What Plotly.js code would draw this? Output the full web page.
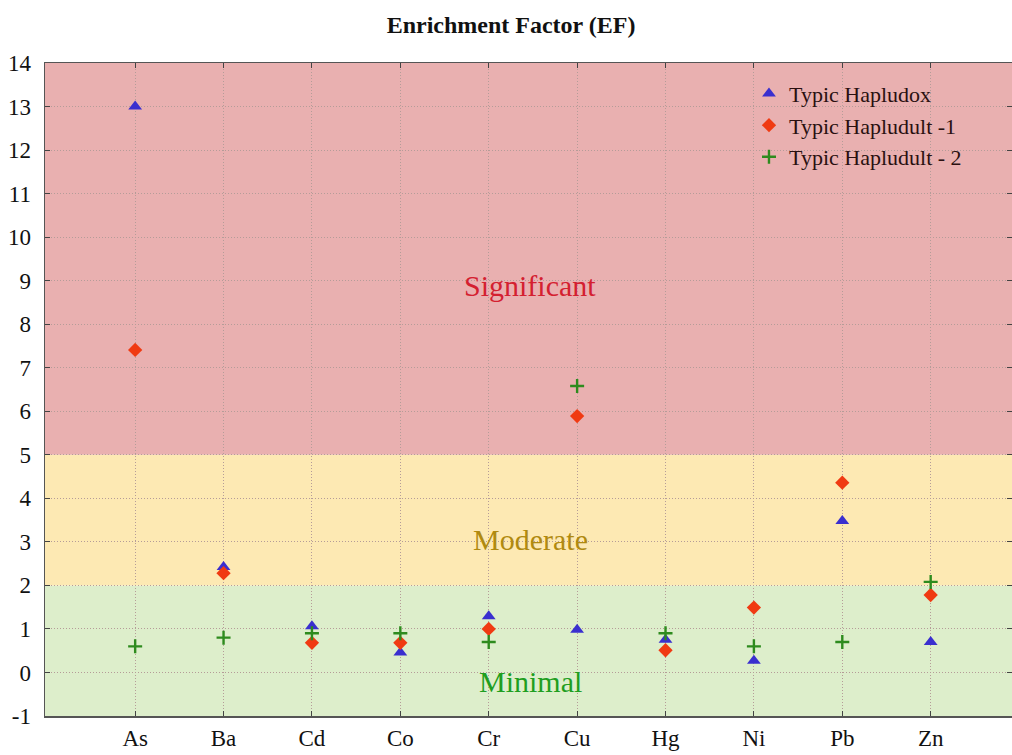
<!DOCTYPE html>
<html>
<head>
<meta charset="utf-8">
<script src="https://cdn.plot.ly/plotly-3.0.1.min.js"></script>
<style>html,body{margin:0;padding:0;background:#fff;}#chart{width:1012px;height:755px;}</style>
</head>
<body>
<div id="chart"></div>
<script>
const elements = ["As","Ba","Cd","Co","Cr","Cu","Hg","Ni","Pb","Zn"];
const hapludox = [13.0, 2.42, 1.06, 0.46, 1.29, 0.98, 0.75, 0.27, 3.48, 0.70];
const hapludult1 = [7.41, 2.28, 0.68, 0.68, 1.0, 5.89, 0.51, 1.49, 4.36, 1.78];
const hapludult2 = [0.60, 0.80, 0.9, 0.9, 0.70, 6.58, 0.9, 0.60, 0.70, 2.08];
const seriesNames = ["Typic Hapludox", "Typic Hapludult -1", "Typic Hapludult - 2"];
const yTickVals = [-1, 0, 1, 2, 3, 4, 5, 6, 7, 8, 9, 10, 11, 12, 13, 14];
const yTickText = ["-1", "0", "1", "2", "3", "4", "5", "6", "7", "8", "9", "10", "11", "12", "13", "14"];
const bandLimits = [-1, 2, 5, 14];
const bandLabels = ["Minimal", "Moderate", "Significant"];
const bandLabelY = [-0.2, 3.05, 8.9];

const serif = "Liberation Serif, Times New Roman, serif";
const bandFill = ["#ddeecb", "#fde9b3", "#e9b0b0"];
const bandText = ["#1f9e1f", "#b08a10", "#d42030"];

const traces = [
  {x: elements, y: hapludox, name: seriesNames[0], type: "scatter", mode: "markers",
   marker: {symbol: "triangle-up", size: 12, color: "#3a2fcf"}},
  {x: elements, y: hapludult1, name: seriesNames[1], type: "scatter", mode: "markers",
   marker: {symbol: "diamond", size: 11, color: "#f03a12"}},
  {x: elements, y: hapludult2, name: seriesNames[2], type: "scatter", mode: "markers",
   marker: {symbol: "cross-thin", size: 10, color: "#2e8b1e", line: {color: "#2e8b1e", width: 2.4}}}
];

const shapes = [];
const annotations = [];
for (let i = 0; i < 3; i++) {
  shapes.push({type: "rect", xref: "paper", yref: "y", x0: 0, x1: 1,
    y0: bandLimits[i], y1: bandLimits[i + 1], fillcolor: bandFill[i], line: {width: 0}, layer: "below"});
  annotations.push({xref: "paper", yref: "y", x: 0.502, y: bandLabelY[i], text: bandLabels[i],
    showarrow: false, font: {family: serif, size: 30, color: bandText[i]}});
}

const gridCol = "#b59c98";
const layout = {
  width: 1012, height: 755,
  margin: {l: 45, r: 0, t: 63, b: 39},
  paper_bgcolor: "#ffffff", plot_bgcolor: "#ffffff",
  title: {text: "<b>Enrichment Factor (EF)</b>", x: 0.505, xanchor: "center", y: 0.968, yanchor: "middle",
    font: {family: serif, size: 24, color: "#111"}},
  showlegend: true,
  legend: {x: 0.728, y: 0.985, xanchor: "left", yanchor: "top", bgcolor: "rgba(0,0,0,0)",
    font: {family: serif, size: 22, color: "#2a1010"}, tracegroupgap: 0},
  xaxis: {type: "category", range: [-1.02, 9.92], showgrid: true, gridcolor: gridCol, griddash: "1px,2px",
    gridwidth: 1, ticks: "inside", ticklen: 5, tickcolor: "#444", showline: true, linecolor: "#555",
    linewidth: 1.5, mirror: "ticks", tickfont: {family: serif, size: 23, color: "#111"}, zeroline: false,
    ticklabelstandoff: 1, fixedrange: true},
  yaxis: {range: [-1, 14], tickvals: yTickVals, ticktext: yTickText, showgrid: true, gridcolor: gridCol,
    griddash: "1px,2px", gridwidth: 1,
    ticks: "inside", ticklen: 5, tickcolor: "#444", showline: true, linecolor: "#555", linewidth: 1.5,
    mirror: "ticks", tickfont: {family: serif, size: 23, color: "#111"}, zeroline: false,
    ticklabelstandoff: 8, fixedrange: true},
  shapes: shapes,
  annotations: annotations
};

Plotly.newPlot("chart", traces, layout, {displayModeBar: false, staticPlot: true});
</script>
</body>
</html>
